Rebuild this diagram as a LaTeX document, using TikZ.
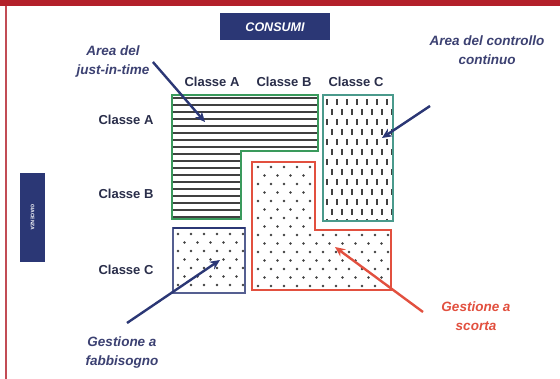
\documentclass[tikz,border=0pt]{standalone}
\usepackage{fontspec}
\setmainfont{Liberation Sans}
\usetikzlibrary{arrows.meta}

\definecolor{navy}{HTML}{2B3775}
\definecolor{labelblue}{HTML}{3C4172}
\definecolor{classgrey}{HTML}{2A2E4A}
\definecolor{jitgreen}{HTML}{3A9A5C}
\definecolor{cctteal}{HTML}{4A9A8C}
\definecolor{scortared}{HTML}{E2503F}
\definecolor{framered}{HTML}{B3202A}
\definecolor{hatch}{HTML}{404040}

\begin{document}
\begin{tikzpicture}[x=1pt, y=-1pt,
  font=\fontsize{13}{15}\selectfont\bfseries,
  classe/.style={text=classgrey},
  area/.style={text=labelblue, align=center, font=\fontsize{13.5}{19}\selectfont\bfseries\itshape},
  pointer/.style={line width=2.4pt, -{Stealth[length=10pt,width=9pt]}},
  dot/.style={fill=hatch}]

\useasboundingbox (0,0) rectangle (560,379);
\fill[white] (0,0) rectangle (560,379);
\fill[framered] (0,0) rectangle (560,6);
\draw[framered!80, line width=1.5pt] (6,6) -- (6,379);

% axes titles
\node[fill=navy, text=white, minimum width=110pt, minimum height=27pt,
  font=\fontsize{12.5}{14}\selectfont\bfseries\itshape] (consumi) at (275,27) {CONSUMI};
\node[fill=navy, text=white, rotate=-90, minimum width=89pt, minimum height=25pt,
  font=\fontsize{5}{6}\selectfont\bfseries] (giacenza) at (32.5,217.5) {GIACENZA};

% class labels
\node[classe] (colA) at (212,82) {Classe A};
\node[classe] (colB) at (284,82) {Classe B};
\node[classe] (colC) at (356,82) {Classe C};
\node[classe] (rowA) at (126,120) {Classe A};
\node[classe] (rowB) at (126,194) {Classe B};
\node[classe] (rowC) at (126,270) {Classe C};

% area del just-in-time
\begin{scope}
\clip (172,95) -- (318,95) -- (318,151) -- (241,151) -- (241,219) -- (172,219) -- cycle;
\foreach \y in {98,105,...,217}
  \draw[hatch, line width=2.3pt] (170,\y) -- (320,\y);
\end{scope}
\draw[jitgreen, line width=2pt] (172,95) -- (318,95) -- (318,151) -- (241,151) -- (241,219) -- (172,219) -- cycle;

% area del controllo continuo
\begin{scope}
\clip (323,95) rectangle (393,221);
\foreach \j in {0,...,12}
  \foreach \i in {0,...,7}
    \draw[hatch, line width=2pt] ({327+10*\i+5*mod(\j,2)},{99+10*\j}) -- ++(0,6);
\end{scope}
\draw[cctteal, line width=1.5pt] (323,95) rectangle (393,221);

% gestione a scorta
\begin{scope}
\clip (252,162) -- (315,162) -- (315,230) -- (391,230) -- (391,290) -- (252,290) -- cycle;
\foreach \j in {0,...,14}
  \foreach \i in {0,...,11}
    \fill[dot] ({258+13*\i+6.5*mod(\j,2)},{167+8.5*\j}) circle (1.3pt);
\end{scope}
\draw[scortared, line width=1.6pt] (252,162) -- (315,162) -- (315,230) -- (391,230) -- (391,290) -- (252,290) -- cycle;

% gestione a fabbisogno
\begin{scope}
\clip (173,228) rectangle (245,293);
\foreach \j in {0,...,7}
  \foreach \i in {0,...,5}
    \fill[dot] ({178+13*\i+6.5*mod(\j,2)},{234+8.5*\j}) circle (1.3pt);
\end{scope}
\draw[navy!80, line width=1.2pt] (173,228) rectangle (245,293);
\draw[navy, line width=2pt] (173,228) -- (245,228);

% labels of the areas
\node[area] (jit) at (113,62) {Area del\\just-in-time};
\node[area] (cc) at (487,50) {Area del controllo\\continuo};
\node[area] (fabb) at (122,353) {Gestione a\\fabbisogno};
\node[area, text=scortared] (scorta) at (476,316) {Gestione a\\scorta};

% arrows
\coordinate (jit tip) at (205,122);
\coordinate (cc tail) at (430,106);
\coordinate (cc tip) at (382,138);
\coordinate (fabb tail) at (127,323);
\coordinate (fabb tip) at (220,260);
\coordinate (scorta tail) at (423,312);
\coordinate (scorta tip) at (335,247);

\draw[pointer, navy] (jit.east) -- (jit tip);
\draw[pointer, navy] (cc tail) -- (cc tip);
\draw[pointer, navy] (fabb tail) -- (fabb tip);
\draw[pointer, scortared] (scorta tail) -- (scorta tip);

\end{tikzpicture}
\end{document}
